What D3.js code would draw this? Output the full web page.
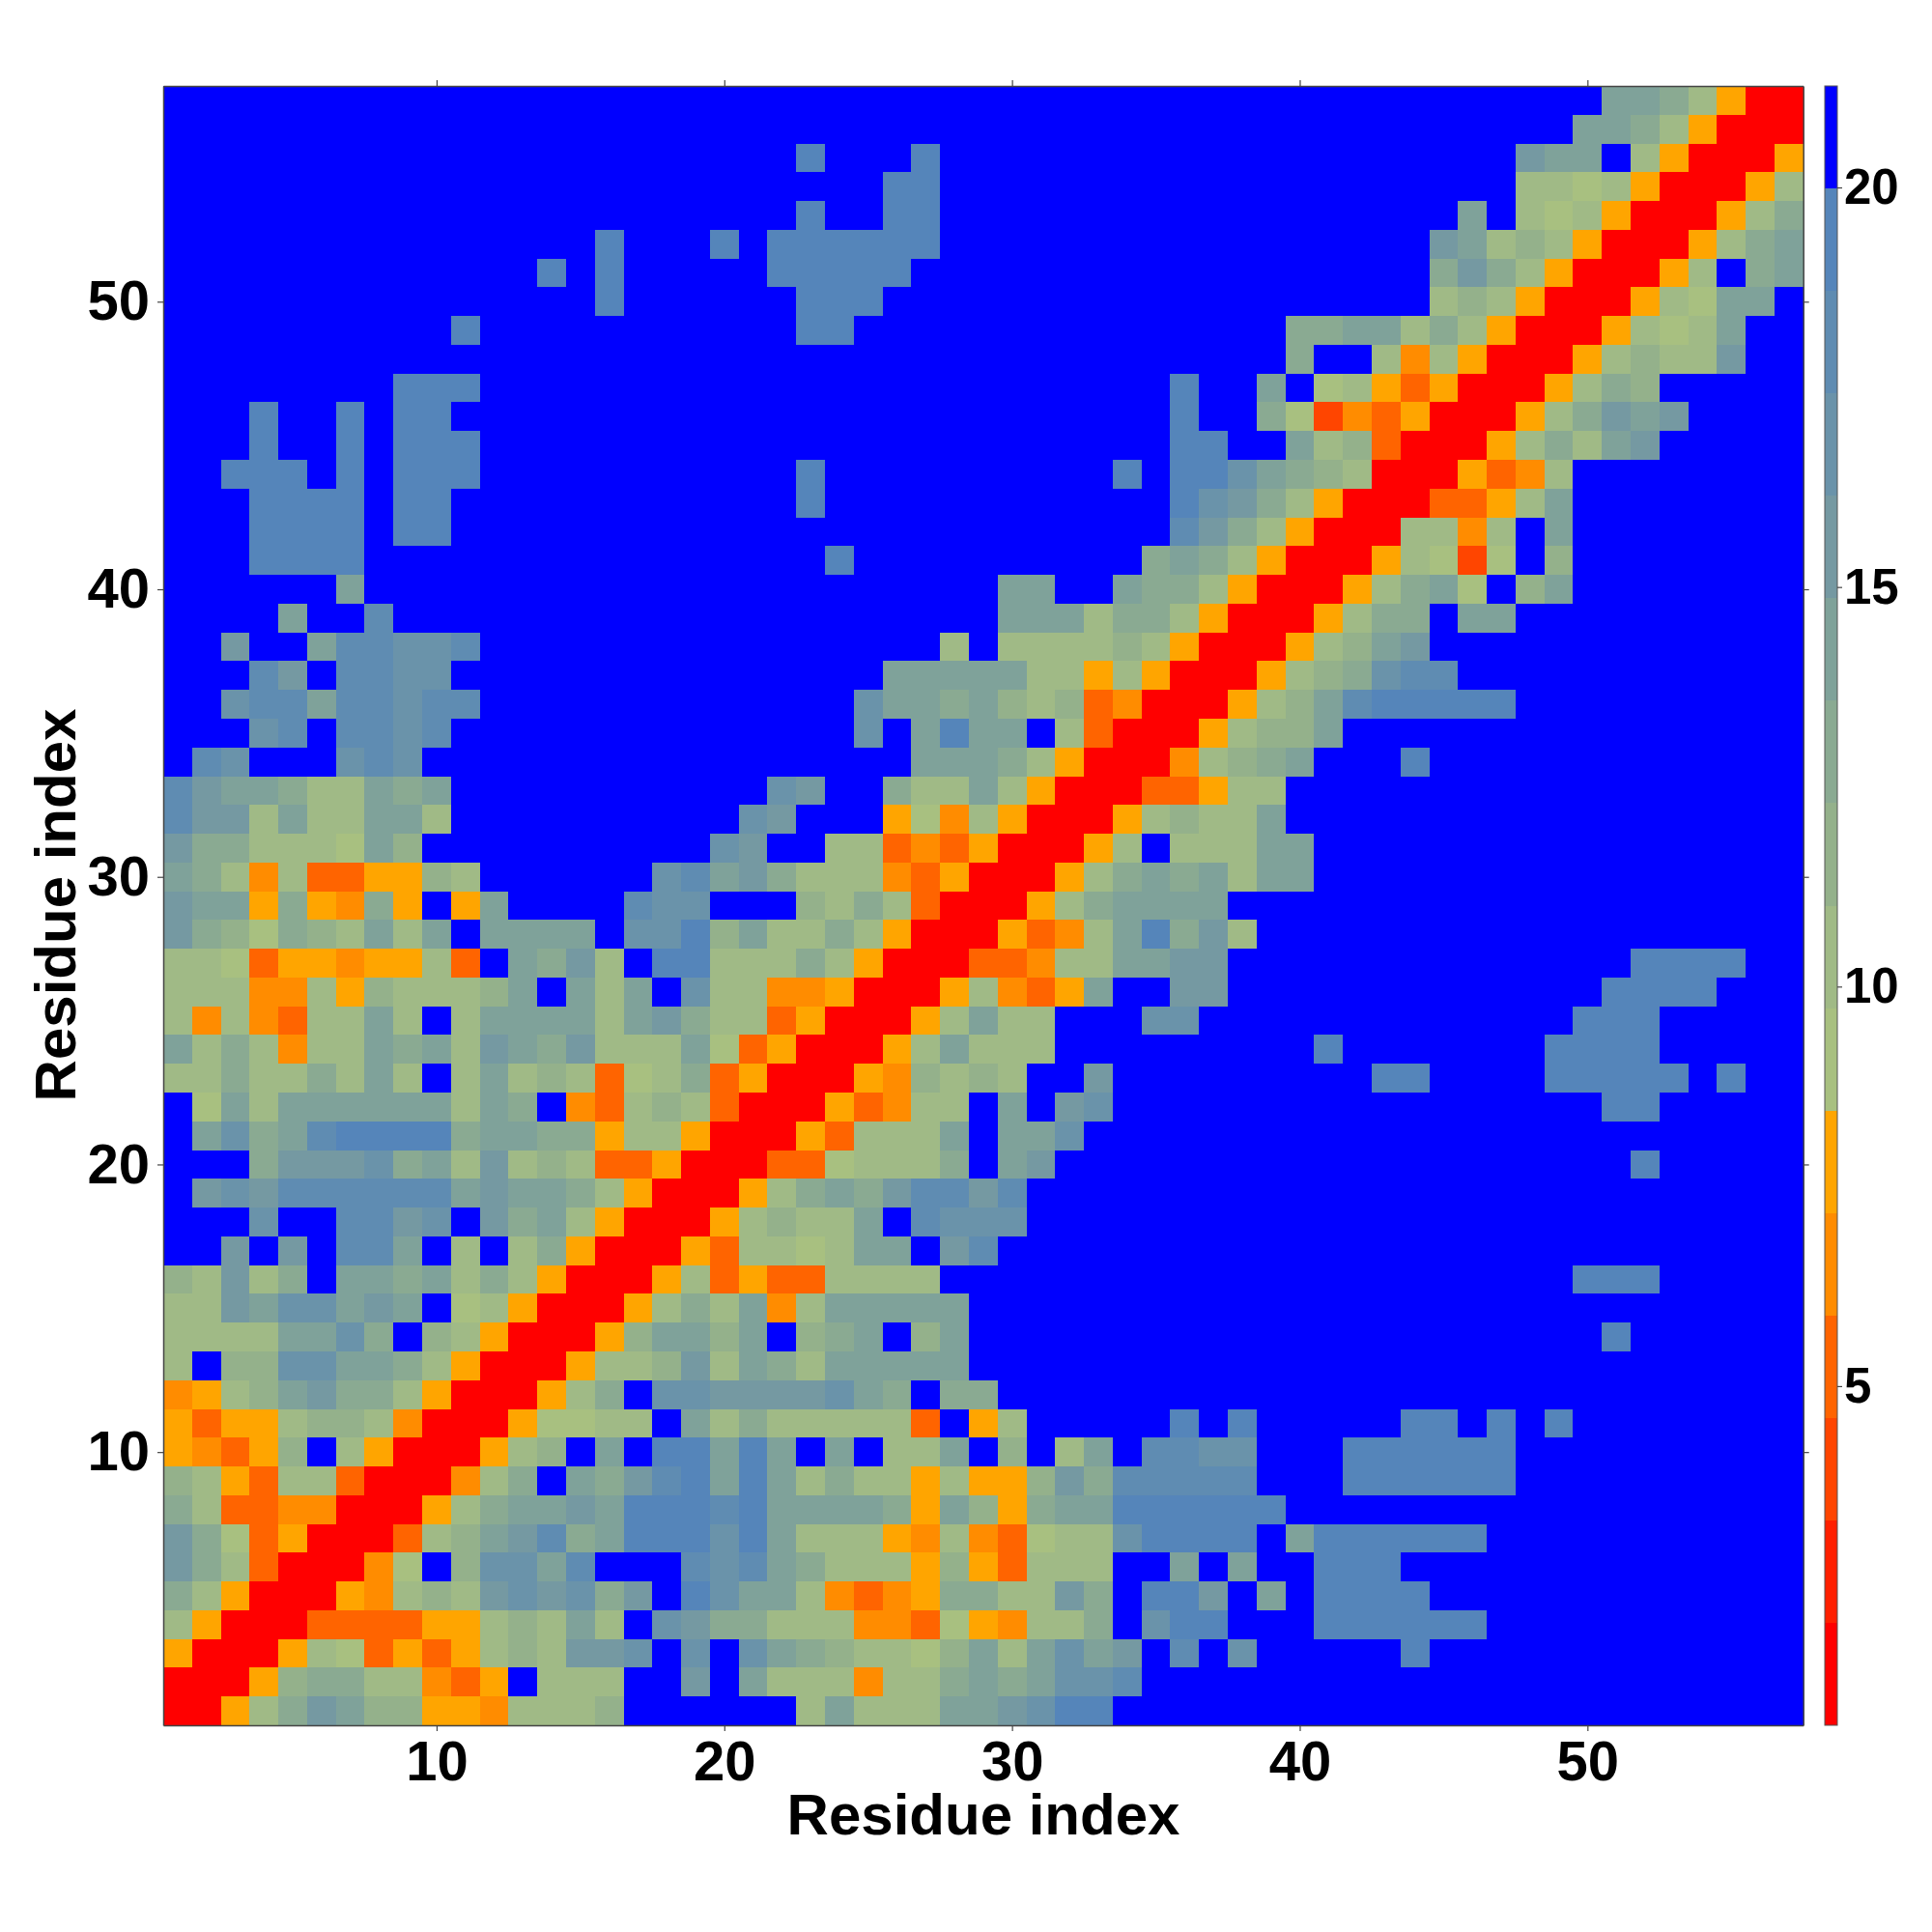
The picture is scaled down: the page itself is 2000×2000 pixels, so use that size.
<!DOCTYPE html>
<html><head><meta charset="utf-8">
<script src="https://cdn.jsdelivr.net/npm/d3@7"></script>
<style>html,body{margin:0;padding:0;background:#fff}svg{display:block}text{font-family:"Liberation Sans",Arial,sans-serif;font-weight:bold;fill:#000}</style>
</head><body><svg id="c" width="2000" height="2000"></svg>
<script>
// Colour level per residue pair, bottom row (residue 1) first. 1..9,a..f = level 1..15, "." = level 16 (blue). Groups of ten columns; missing columns at the end are level 16.
const rows = [
"1168acb996 658889.... ..8b888bbc dff",
"11169aa885 46.888..c. b888588aba bdde",
"6111687464 6898ccd.d. dba98879b8 bdbc.e.d.. ...f",
"8611144446 6898b8.dca a888554765 88a.dff... ffffff",
"a861116589 8cdcdac.fd bb85456aa8 8ca.ffc.b. ffff",
"ca8411157. 9ddbe...ed eba8886964 888..b.b.. fff",
"ca74611148 9bceabfffd fb88865854 788dffff.b ffffff",
"a844551116 8abbcbfffe fbbbba6b96 abbffffff.",
"9864884111 58a.bacefb fb8a886866 9caeeeee.. .ffffff",
"65469.8611 1689.b.ffb fb.b.88b.9 .8b.eedd.. .ffffff",
"6466899851 1167788.b8 a888884.68 .....f.f.. ...ff.f.f",
"5689bcaa86 11168a.ddc cccdba.aa.",
"8.99ddbba8 61116889c8 ba8bbbbb..",
"8888bbda.9 8611169bb9 b.9ab.9b.. .......... .......... f",
"88cbddbcb. 78611168a8 b58bbbbb..",
"98c8a.bbab 8a86111684 6448888... .......... .........f ff",
"..c.c.eeb. 8.8a611164 8878bb.ce.",
"...d..eecd .cab861116 8988b.eddd",
".cdceeeeee bcbba86111 68abaceece",
"...acccdab 8c89844611 1447888a.b c......... .......... .f",
".bdabeffff abbaa68861 1164888b.b bd",
".7b8bbbbbb 8ba.548984 11164588.b .cd....... .......... ff",
"88a88a8b8. 8b898478a4 6111659898 ..c....... ..ff....ff fff.f",
"b8a8588bab 8cbac888b7 4611168b88 8......... f.......ff ff",
"8585488b8. 8bbbb8bca8 84611168b8 8...dd.... .........f ff",
"8885586988 89b.b8b.d8 8556111685 46b..cc... .......... ffff",
"8874665668 4.bac8.ff8 88a8611144 588bbcc... .......... .ffff",
"ca97a98b8b .bbbb.ddf9 b88a861116 458bfac8..",
"cbb6a65a6. 6b....edd. ..98a84111 68abbbb...",
"ba85844669 8......deb ca88854611 168abab8bb",
"caa8887b9. .........d c..8845461 1168.888bb",
"ecc8b88bb8 .......... dc...67586 11168988b.",
"ecbba88bab .......... .dc..a88b8 611144688.",
".ed...ded. .......... ......bbba 86111589ab ...f",
"...de.eede .......... ....d.bfbb .841116899 b",
"..deebeede e......... ....dbbab9 8945111689 befffff",
"...ec.eedd .......... .....bbbbb 8868611168 9adee",
"..c..beedd e......... .......8.8 8889861116 89bc",
"....b..e.. .......... .........b bb8aa86111 68aa.bb",
"......b... .......... .........b b..baa8611 168ab7.9b",
"...ffff... .......... ...f...... ....aba861 1168737.9",
"...ffff.ff .......... .......... .....eca86 1118858.b",
"...ffff.ff .......... ..f....... .....fdca8 61114468b",
"..fff.f.ff f......... ..f....... ...f.ffdba 981116458",
"...f..f.ff f......... .......... .....ff..b 89411168a8 bc",
"...f..f.ff .......... .......... .....f..a7 354611168a cbc",
"........ff f......... .......... .....f..b. 7864611168 a9",
".......... .......... .......... .........a ..85861116 8988c",
".......... f......... ..ff...... .........a abb8a86111 6878b",
".......... .....f.... ..fff..... .......... ....898611 1687bb",
".......... ...f.f.... .fffff.... .......... ....aca861 1168.ab",
".......... .....f...f .ffffff... .......... ....cb8986 11168ab",
".......... .......... ..f..ff... .......... .....b.878 611168a",
".......... .......... .....ff... .......... .......887 8611168",
".......... .......... ..f...f... .......... .......cbb .861116",
".......... .......... .......... .......... .........b ba86111",
".......... .......... .......... .......... .......... bba8611"
];
const levelColors = ["#ff0000","#ff2000","#ff4500","#ff6400","#ff8c00","#ffa500","#a8c080","#a0ba86","#94b18b","#8aaa92","#7fa29a","#7599a2","#6a93aa","#5f8cb2","#5585ba","#0000ff"];
const valueDomain = [0.756, 21.27];
const axisTicks = [10,20,30,40,50];
const barTicks = [5,10,15,20];
const axisTitle = "Residue index";

const W = 57, L = 169, R = 1866.7, T = 89, B = 1786;
const svg = d3.select("#c");
const x = d3.scaleLinear([0.5, W + 0.5], [L, R]);
const y = d3.scaleLinear([0.5, W + 0.5], [B, T]);
const colorOf = d3.scaleQuantize(valueDomain, levelColors);
const step = (valueDomain[1] - valueDomain[0]) / levelColors.length;
const cells = [];
rows.forEach((r, j) => {
  const s = r.replace(/ /g, "").padEnd(W, ".").slice(0, W);
  [...s].forEach((ch, i) => {
    const lvl = ch === "." ? 16 : parseInt(ch, 16);
    cells.push({ i: i + 1, j: j + 1, v: valueDomain[0] + (lvl - 0.5) * step });
  });
});
svg.append("g").attr("shape-rendering", "crispEdges").selectAll("rect").data(cells).join("rect")
  .attr("x", d => x(d.i - 0.5)).attr("y", d => y(d.j + 0.5))
  .attr("width", d => x(d.i + 0.5) - x(d.i - 0.5)).attr("height", d => y(d.j - 0.5) - y(d.j + 0.5))
  .attr("fill", d => colorOf(d.v));

function styleAxis(g, size) {
  g.select(".domain").attr("stroke", "#444").attr("stroke-width", 1.5);
  g.selectAll(".tick line").attr("stroke", "#444").attr("stroke-width", 1.2);
  g.selectAll(".tick text").attr("font-size", size).attr("font-family", '"Liberation Sans"').attr("font-weight", "bold").attr("fill", "#000");
}
const fs = 58;
const gb = svg.append("g").attr("transform", `translate(0,${B})`)
  .call(d3.axisBottom(x).tickValues(axisTicks).tickSize(6).tickSizeOuter(0).tickPadding(6)).call(styleAxis, fs);
gb.selectAll(".tick text").attr("dy", null).attr("y", 57);
const gl = svg.append("g").attr("transform", `translate(${L},0)`)
  .call(d3.axisLeft(y).tickValues(axisTicks).tickSize(6).tickSizeOuter(0).tickPadding(8)).call(styleAxis, fs);
gl.selectAll(".tick text").attr("x", -14);
svg.append("g").attr("transform", `translate(0,${T})`)
  .call(d3.axisTop(x).tickValues(axisTicks).tickSize(6).tickSizeOuter(0).tickFormat("")).call(styleAxis, fs);
svg.append("g").attr("transform", `translate(${R},0)`)
  .call(d3.axisRight(y).tickValues(axisTicks).tickSize(6).tickSizeOuter(0).tickFormat("")).call(styleAxis, fs);

svg.append("text").attr("x", 1018).attr("y", 1899).attr("text-anchor", "middle").attr("font-size", 60).text(axisTitle);
svg.append("text").attr("transform", "translate(78,937) rotate(-90)").attr("text-anchor", "middle").attr("font-size", 60).text(axisTitle);

// colour bar
const CL = 1889, CR = 1902;
const cy = d3.scaleLinear(valueDomain, [B, T]);
svg.append("g").attr("shape-rendering", "crispEdges").selectAll("rect").data(levelColors).join("rect")
  .attr("x", CL).attr("width", CR - CL)
  .attr("y", (c, i) => cy(valueDomain[0] + (i + 1) * step))
  .attr("height", (c, i) => cy(valueDomain[0] + i * step) - cy(valueDomain[0] + (i + 1) * step))
  .attr("fill", c => c);
svg.append("rect").attr("x", CL).attr("y", T).attr("width", CR - CL).attr("height", B - T).attr("fill", "none").attr("stroke", "#555").attr("stroke-width", 1);
const gc = svg.append("g").attr("transform", `translate(${CR},0)`)
  .call(d3.axisRight(cy).tickValues(barTicks).tickSize(5).tickSizeOuter(0).tickPadding(2)).call(styleAxis, 51);
gc.select(".domain").remove();
</script></body></html>
